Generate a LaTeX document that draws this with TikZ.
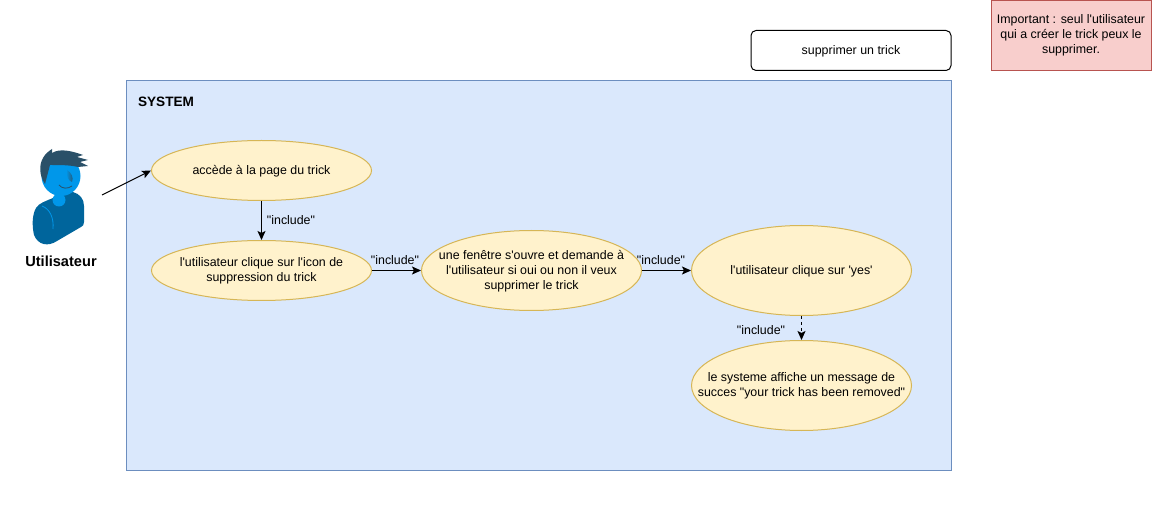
\documentclass[tikz,border=0pt]{standalone}
\usepackage{fontspec}
\newfontfamily\diafont{Liberation Sans}
\usetikzlibrary{arrows.meta,shapes.geometric}
\definecolor{sysfill}{HTML}{DAE8FC}
\definecolor{sysline}{HTML}{6C8EBF}
\definecolor{casefill}{HTML}{FFF2CC}
\definecolor{caseline}{HTML}{D6B656}
\definecolor{notefill}{HTML}{F8CECC}
\definecolor{noteline}{HTML}{B85450}
\definecolor{hairc}{HTML}{2A5068}
\definecolor{bodyc}{HTML}{00659C}
\definecolor{skinc}{HTML}{0097EA}
\tikzset{
  every node/.style={font=\diafont\fontsize{12.4}{15}\selectfont,align=center,inner sep=0pt,text depth=1pt},
  usecase/.style={draw=caseline,fill=casefill,ellipse,line width=1pt,minimum width=220pt,inner xsep=-50pt,inner ysep=-10pt},
  flow/.style={draw,line width=1pt,-{Stealth[length=9pt,width=8pt,inset=2pt]}},
}
\begin{document}
\begin{tikzpicture}[x=1pt,y=-1pt]
\useasboundingbox (0,0) rectangle (1153,518);

\node[draw=sysline,fill=sysfill,line width=1pt,minimum width=825pt,minimum height=390pt] (system) at (538.5,275.5) {};
\node[font=\diafont\bfseries\fontsize{13.6}{16}\selectfont] (systitle) at (166,102.5) {SYSTEM};
\node[draw,rounded corners=5pt,line width=1pt,minimum width=200pt,minimum height=40pt] (title) at (851,50.5) {supprimer un trick};
\node[draw=noteline,fill=notefill,line width=1pt,minimum width=160pt,minimum height=70pt,anchor=north] (note) at (1071,0.5) {};
\node (notetext) at (1071,35) {Important : seul l'utilisateur\\qui a créer le trick peux le\\supprimer.};

% actor
\path[fill=bodyc] (53,198) .. controls (60,192) and (68,191) .. (73,192) .. controls (80,194) and (84,199) .. (84,206) -- (84,222) .. controls (84,225) and (83,226) .. (81,227) -- (57,241) .. controls (48,247) and (38,245) .. (34,235) .. controls (32,226) and (32,215) .. (36,208) .. controls (39,203) and (46,201) .. (53,198) -- cycle;
\path[draw=skinc,line width=0.8pt] (42,206) .. controls (50,209) and (54,218) .. (53,229);
\path[fill=skinc] (59,200) ellipse (6.5 and 6.5);
\path[fill=skinc] (61,176) ellipse (19.5 and 20);
\path[left color=skinc,right color=hairc] (67,170) .. controls (71,172) and (74,178) .. (72,182) .. controls (69,181) and (66,177) .. (67,170) -- cycle;
\path[draw=hairc,line width=0.8pt] (59,185) .. controls (62,189) and (68,189) .. (72,186);
\path[fill=hairc] (45,184) .. controls (39,175) and (39,165) .. (43,158) .. controls (45,154) and (49,151) .. (52,149) -- (52,153) .. controls (60,148) and (72,151) .. (83,155) -- (77,157) -- (88,160) -- (80,162) -- (88,166) -- (78,167) .. controls (70,165) and (60,165) .. (50,165) -- cycle;
\node[font=\diafont\bfseries\fontsize{14.6}{16}\selectfont] (actorlabel) at (61,262) {Utilisateur};
\coordinate (actor) at (102,195);

\node[usecase,minimum height=60pt] (page) at (261.5,170.5) {accède à la page du trick};
\node[usecase,minimum height=60pt] (icon) at (261.5,270.5) {l'utilisateur clique sur l'icon de\\suppression du trick};
\node[usecase,minimum height=80pt] (window) at (531.5,270.5) {une fenêtre s'ouvre et demande à\\l'utilisateur si oui ou non il veux\\supprimer le trick};
\node[usecase,minimum height=90pt] (yes) at (801.5,270.5) {l'utilisateur clique sur 'yes'};
\node[usecase,minimum height=90pt] (message) at (801.5,385.5) {le systeme affiche un message de\\succes "your trick has been removed"};

\path[flow] (actor) -- (page.west);
\path[flow] (page) -- (icon);
\path[flow] (icon) -- (window);
\path[flow] (window) -- (yes);
\path[flow,dash pattern=on 3pt off 3pt] (yes) -- (message);

\node (inc1) at (291,221) {"include"};
\node (inc2) at (395,261) {"include"};
\node (inc3) at (661,261) {"include"};
\node (inc4) at (761,331) {"include"};
\end{tikzpicture}
\end{document}
